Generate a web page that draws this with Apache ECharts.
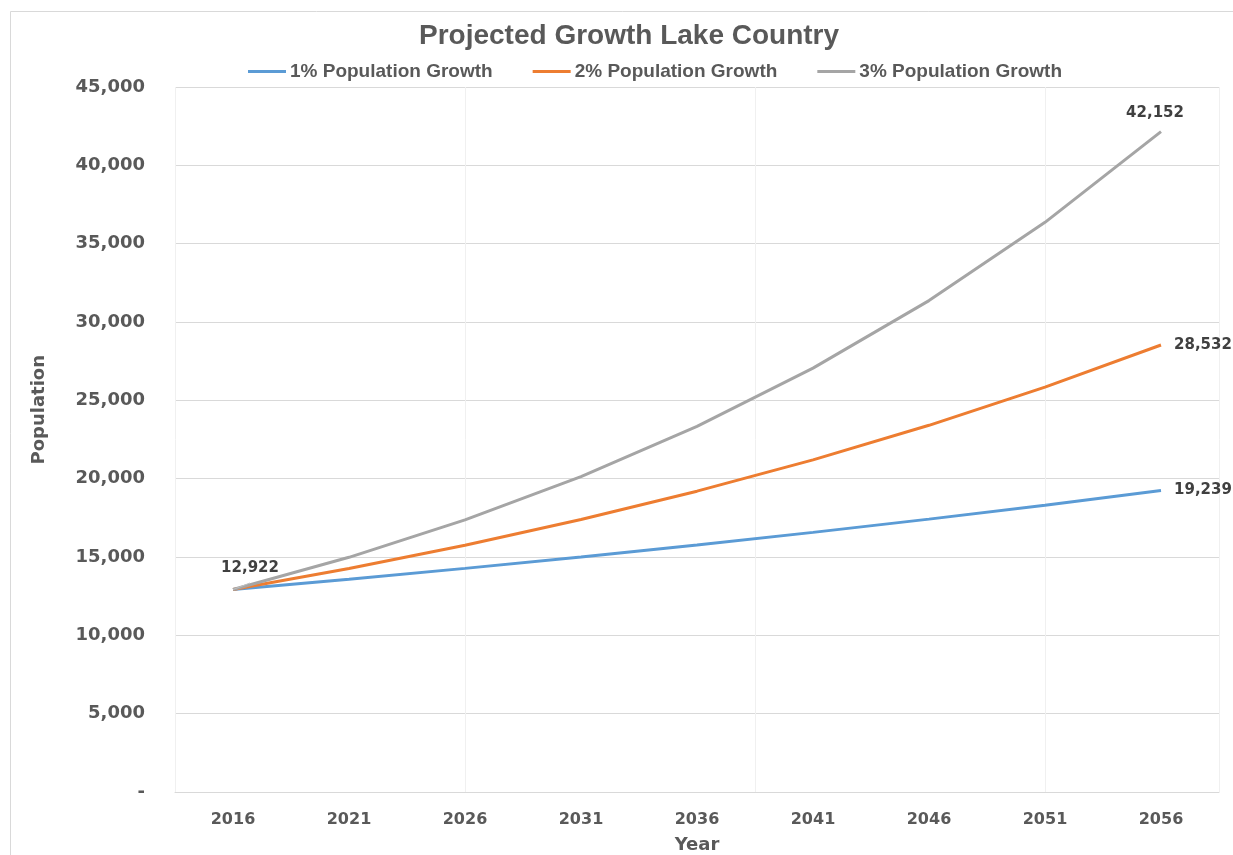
<!DOCTYPE html>
<html>
<head>
<meta charset="utf-8">
<script src="https://cdn.jsdelivr.net/npm/echarts@6/dist/echarts.min.js"></script>
<style>
html,body{margin:0;padding:0;background:#fff;}
#chart{width:1233px;height:855px;}
</style>
</head>
<body>
<div id="chart"></div>
<script>
const title = 'Projected Growth Lake Country';
const years = ['2016','2021','2026','2031','2036','2041','2046','2051','2056'];
const growth1 = [12922, 13581, 14274, 15002, 15767, 16572, 17417, 18305, 19239];
const growth2 = [12922, 14267, 15752, 17391, 19202, 21200, 23406, 25843, 28532];
const growth3 = [12922, 14980, 17366, 20132, 23339, 27056, 31365, 36361, 42152];
const seriesNames = ['1% Population Growth', '2% Population Growth', '3% Population Growth'];
const yTicks = [0, 5000, 10000, 15000, 20000, 25000, 30000, 35000, 40000, 45000];

const fmt = v => v === 0 ? '-' : v.toLocaleString('en-US');
const textColor = '#595959';
const labelColor = '#404040';
const font = 'DejaVu Sans';

function withLabels(arr, firstLabel, lastLabel) {
  return arr.map((v, i) => {
    if (i === 0 && firstLabel) return {value: v, label: firstLabel, labelLine: {show: true, lineStyle: {color: '#bfbfbf', width: 1}}};
    if (i === arr.length - 1 && lastLabel) return {value: v, label: lastLabel};
    return v;
  });
}
const lblBase = {show: true, color: labelColor, fontFamily: font, fontWeight: 'bold', fontSize: 15, formatter: p => fmt(p.value)};

const chart = echarts.init(document.getElementById('chart'), null, {renderer: 'canvas'});
chart.setOption({
  animation: false,
  backgroundColor: '#fff',
  title: {
    text: title, left: 414, top: 17,
    textStyle: {color: textColor, fontFamily: 'Liberation Sans', fontWeight: 'bold', fontSize: 28}
  },
  legend: {
    top: 57, left: 243,
    itemWidth: 38, itemHeight: 3, itemGap: 40, icon: 'rect',
    textStyle: {color: textColor, fontFamily: 'Liberation Sans', fontWeight: 'bold', fontSize: 19, padding: [0,0,0,-1]},
    data: seriesNames
  },
  graphic: [
    {type: 'rect', shape: {x: 10.5, y: 11.5, width: 1240, height: 900}, style: {fill: 'none', stroke: '#d9d9d9', lineWidth: 1}, silent: true, z: -1},
    {type: 'text', left: 30, top: 410 - 55, rotation: Math.PI / 2,
     style: {text: 'Population', fill: textColor, font: 'bold 18px "DejaVu Sans"', textAlign: 'center', textVerticalAlign: 'middle', x: 0, y: 0}}
  ],
  grid: {left: 175, right: 14, top: 87, bottom: 63, containLabel: false, outerBoundsMode: 'none'},
  xAxis: [{
    type: 'category', data: years, boundaryGap: true,
    axisLine: {lineStyle: {color: '#d9d9d9', width: 1}},
    axisTick: {show: false},
    axisLabel: {color: textColor, fontFamily: font, fontWeight: 'bold', fontSize: 16, margin: 20},
    name: 'Year', nameLocation: 'middle', nameGap: 44,
    nameTextStyle: {color: textColor, fontFamily: font, fontWeight: 'bold', fontSize: 18},
    splitLine: {show: false}
  }, {
    type: 'value', min: 0, max: 9, interval: 2.5, position: 'bottom', show: true,
    axisLine: {show: false}, axisTick: {show: false}, axisLabel: {show: false},
    splitLine: {show: true, lineStyle: {color: '#f0f0f0', width: 1}}
  }],
  yAxis: {
    type: 'value', min: 0, max: 45000, interval: 5000,
    axisLine: {show: false}, axisTick: {show: false},
    axisLabel: {color: textColor, fontFamily: font, fontWeight: 'bold', fontSize: 18, margin: 30, formatter: fmt},
    splitLine: {lineStyle: {color: '#d9d9d9', width: 1}}
  },
  series: [
    {name: seriesNames[0], type: 'line', symbol: 'circle', symbolSize: 0.1, showSymbol: true,
     lineStyle: {color: '#5B9BD5', width: 3}, itemStyle: {color: '#5B9BD5'},
     data: withLabels(growth1, null, Object.assign({}, lblBase, {position: 'right', distance: 13}))},
    {name: seriesNames[1], type: 'line', symbol: 'circle', symbolSize: 0.1, showSymbol: true,
     lineStyle: {color: '#ED7D31', width: 3}, itemStyle: {color: '#ED7D31'},
     data: withLabels(growth2, null, Object.assign({}, lblBase, {position: 'right', distance: 13}))},
    {name: seriesNames[2], type: 'line', symbol: 'circle', symbolSize: 0.1, showSymbol: true,
     lineStyle: {color: '#A5A5A5', width: 3}, itemStyle: {color: '#A5A5A5'},
     data: withLabels(growth3,
       Object.assign({}, lblBase, {position: 'top', offset: [17, -8], distance: 6}),
       Object.assign({}, lblBase, {position: 'top', offset: [-6, -5], distance: 6}))}
  ]
});
</script>
</body>
</html>
